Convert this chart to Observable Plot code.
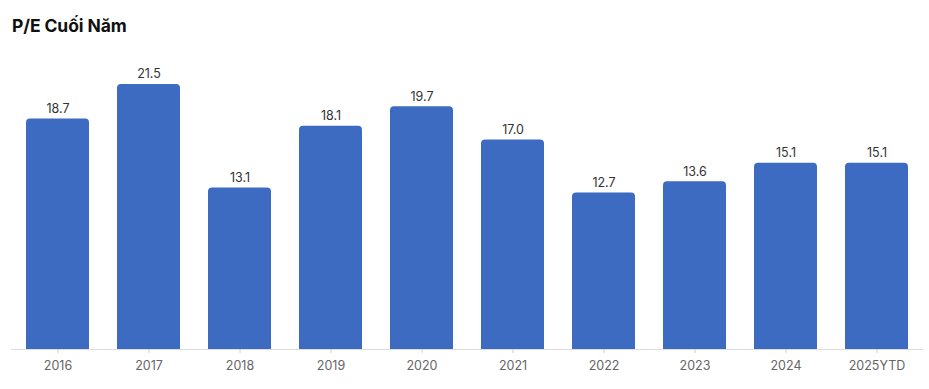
<!DOCTYPE html>
<html>
<head>
<meta charset="utf-8">
<script src="https://cdn.jsdelivr.net/npm/d3@7"></script>
<script src="https://cdn.jsdelivr.net/npm/@observablehq/plot@0.6"></script>
<style>
  html, body { margin: 0; padding: 0; background: #fff; }
  #wrap { position: relative; width: 929px; height: 389px; font-family: Inter, "Noto Sans", sans-serif; }
  #title { position: absolute; left: 12px; top: 15px; font-size: 17.5px; font-weight: 700; color: #111; letter-spacing: -0.1px; }
</style>
</head>
<body>
<div id="wrap"><div id="title">P/E Cuối Năm</div></div>
<script>
const years = ["2016", "2017", "2018", "2019", "2020", "2021", "2022", "2023", "2024", "2025YTD"];
const pe = [18.7, 21.5, 13.1, 18.1, 19.7, 17.0, 12.7, 13.6, 15.1, 15.1];
const data = years.map((y, i) => ({year: y, pe: pe[i]}));

const chart = Plot.plot({
  width: 929,
  height: 389,
  marginTop: 40.8,
  marginBottom: 40,
  marginLeft: 11,
  marginRight: 6,
  style: {fontFamily: "Inter, 'Noto Sans', sans-serif", background: "transparent"},
  x: {domain: years, paddingInner: 0.31, paddingOuter: 0.155, label: null, tickSize: 4},
  y: {domain: [0, 25], axis: null},
  marks: [
    Plot.barY(data, {x: "year", y: "pe", fill: "#3D6BC1", rx: 4}),
    Plot.barY(data, {x: "year", y: d => Math.min(d.pe, 1), fill: "#3D6BC1"}),
    Plot.ruleY([0], {stroke: "#dddddd", strokeWidth: 1}),
    Plot.text(data, {x: "year", y: "pe", text: d => d.pe.toFixed(1), dy: -10, fill: "#333", fontSize: 12.5}),
    Plot.axisX({tickSize: 4, stroke: "#cccccc", tickPadding: 8, fontSize: 12.5, color: "#666", label: null})
  ]
});
chart.style.position = "absolute";
chart.style.left = "0";
chart.style.top = "0";
document.getElementById("wrap").appendChild(chart);
</script>
</body>
</html>
